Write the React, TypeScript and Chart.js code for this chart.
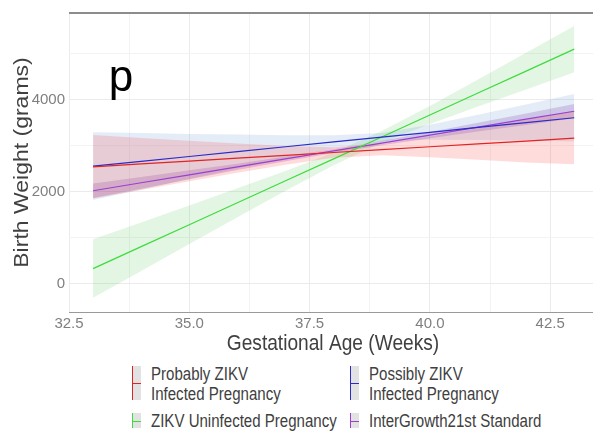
import React, { useEffect, useRef } from 'react';
import { Chart, registerables } from 'chart.js';
Chart.register(...registerables);

// Gestational age (weeks) at which fitted values / bands are read
const weeks = [33, 34, 35, 36, 37, 38, 39, 40, 41, 42, 43];

// Probably ZIKV infected pregnancy
const probablyFit = [2536, 2598, 2660, 2723, 2785, 2847, 2909, 2971, 3033, 3095, 3158];
const probablyLow = [1846, 2033, 2219, 2404, 2582, 2735, 2785, 2745, 2690, 2629, 2590];
const probablyHigh = [3226, 3163, 3101, 3042, 2988, 2959, 3033, 3197, 3376, 3561, 3748];

// Possibly ZIKV infected pregnancy
const possiblyFit = [2550, 2655, 2760, 2866, 2971, 3076, 3181, 3286, 3392, 3497, 3602];
const possiblyLow = [1814, 2042, 2269, 2496, 2719, 2933, 3090, 3123, 3117, 3103, 3087];
const possiblyHigh = [3286, 3268, 3251, 3236, 3223, 3219, 3272, 3449, 3667, 3891, 4117];

// ZIKV uninfected pregnancy
const uninfectedFit = [322, 799, 1276, 1754, 2231, 2708, 3185, 3662, 4140, 4617, 5094];
const uninfectedLow = [-314, 272, 857, 1440, 2016, 2571, 3057, 3465, 3846, 4219, 4589];
const uninfectedHigh = [958, 1326, 1695, 2068, 2446, 2845, 3313, 3859, 4434, 5015, 5599];

// InterGrowth21st standard
const standardFit = [2015, 2188, 2361, 2534, 2707, 2880, 3052, 3225, 3398, 3571, 3744];
const standardLow = [1855, 2060, 2263, 2464, 2657, 2838, 3004, 3157, 3303, 3446, 3589];
const standardHigh = [2175, 2316, 2459, 2604, 2757, 2922, 3100, 3293, 3493, 3696, 3899];

// Axis ticks
const xTicks = [32.5, 33.75, 35, 36.25, 37.5, 38.75, 40, 41.25, 42.5];
const xLabeled = [32.5, 35, 37.5, 40, 42.5];
const yTicks = [0, 1000, 2000, 3000, 4000, 5000];
const yLabeled = [0, 2000, 4000];
const X_MIN = 32.5;
const X_MAX = 43.39;
const Y_MIN = -622;
const Y_MAX = 5880;

const xTitle = 'Gestational Age (Weeks)';
const yTitle = 'Birth Weight (grams)';
const panelLabel = 'p';

const seriesNames = [
  ['Probably ZIKV', 'Infected Pregnancy'],
  ['Possibly ZIKV', 'Infected Pregnancy'],
  ['ZIKV Uninfected Pregnancy'],
  ['InterGrowth21st Standard'],
];
const lineColors = ['#e02424', '#2b2bc8', '#3ddc3d', '#9a3fd0'];
const fillColors = [
  'rgba(255,40,40,0.16)',
  'rgba(90,140,210,0.17)',
  'rgba(70,190,70,0.15)',
  'rgba(130,40,160,0.22)',
];

const FONT = '"Liberation Sans", Arial, Helvetica, sans-serif';

export default function App() {
  const ref = useRef<HTMLCanvasElement>(null);

  useEffect(() => {
    document.body.style.margin = '0';
    const canvas = ref.current!;
    const pts = (ys: number[]) => weeks.map((x, i) => ({ x, y: ys[i] }));
    const series = [
      { fit: probablyFit, lo: probablyLow, hi: probablyHigh },
      { fit: possiblyFit, lo: possiblyLow, hi: possiblyHigh },
      { fit: uninfectedFit, lo: uninfectedLow, hi: uninfectedHigh },
      { fit: standardFit, lo: standardLow, hi: standardHigh },
    ];
    const datasets: any[] = [];
    series.forEach((s, i) =>
      datasets.push({
        data: pts(s.fit),
        borderColor: lineColors[i],
        borderWidth: 1.2,
        pointRadius: 0,
        fill: false,
        tension: 0,
      })
    );
    series.forEach((s, i) => {
      const hiIdx = datasets.length;
      datasets.push({
        data: pts(s.hi),
        borderColor: 'transparent',
        borderWidth: 0,
        pointRadius: 0,
        backgroundColor: fillColors[i],
        fill: hiIdx + 1,
      });
      datasets.push({
        data: pts(s.lo),
        borderColor: 'transparent',
        borderWidth: 0,
        pointRadius: 0,
        fill: false,
      });
    });

    const decor = {
      id: 'decor',
      beforeDatasetsDraw(chart: any) {
        const { ctx, chartArea: a } = chart;
        ctx.save();
        ctx.strokeStyle = '#8c8c8c';
        ctx.lineWidth = 2;
        ctx.beginPath();
        ctx.moveTo(a.left, a.top);
        ctx.lineTo(a.right, a.top);
        ctx.stroke();
        ctx.strokeStyle = '#9a9a9a';
        ctx.lineWidth = 1;
        ctx.beginPath();
        ctx.moveTo(a.left, a.bottom + 0.5);
        ctx.lineTo(a.right, a.bottom + 0.5);
        ctx.stroke();
        ctx.restore();
      },
      afterDraw(chart: any) {
        const { ctx, chartArea: a } = chart;
        ctx.save();
        ctx.fillStyle = '#404040';
        ctx.textAlign = 'center';
        ctx.textBaseline = 'middle';
        // x title
        ctx.font = `22px ${FONT}`;
        ctx.save();
        ctx.translate((a.left + a.right) / 2 + 2, a.bottom + 32);
        ctx.scale(0.87, 1);
        ctx.fillText(xTitle, 0, 0);
        ctx.restore();
        // y title
        ctx.font = `23px ${FONT}`;
        ctx.save();
        ctx.translate(22, (a.top + a.bottom) / 2);
        ctx.scale(0.87, 1);
        ctx.rotate(-Math.PI / 2);
        ctx.fillText(yTitle, 0, 0);
        ctx.restore();
        // panel letter
        ctx.fillStyle = '#000';
        ctx.font = `44px ${FONT}`;
        ctx.textBaseline = 'alphabetic';
        ctx.fillText(panelLabel, a.left + 52, a.top + 78);
        ctx.restore();
      },
    };

    const chart = new Chart(canvas, {
      type: 'line',
      data: { datasets },
      options: {
        animation: false,
        responsive: false,
        events: [],
        layout: { padding: { top: 9, left: 0, right: 0, bottom: 0 } },
        plugins: { legend: { display: false }, tooltip: { enabled: false } },
        scales: {
          x: {
            type: 'linear',
            min: X_MIN,
            max: X_MAX,
            afterBuildTicks: (s: any) => {
              s.ticks = xTicks.map((v) => ({ value: v }));
            },
            afterFit: (s: any) => {
              s.height = 45;
            },
            ticks: {
              autoSkip: false,
              maxRotation: 0,
              padding: 3,
              color: '#7f7f7f',
              font: { size: 15, family: FONT },
              callback: (v: any) => (xLabeled.includes(Number(v)) ? Number(v).toFixed(1) : ''),
            },
            grid: {
              drawTicks: false,
              color: (c: any) => (xLabeled.includes(c.tick?.value) ? '#ebebeb' : '#f3f3f3'),
              lineWidth: 1,
            },
            border: { display: false },
          },
          y: {
            type: 'linear',
            min: Y_MIN,
            max: Y_MAX,
            afterBuildTicks: (s: any) => {
              s.ticks = yTicks.map((v) => ({ value: v }));
            },
            afterFit: (s: any) => {
              s.width = 69;
            },
            ticks: {
              autoSkip: false,
              padding: 4,
              color: '#7f7f7f',
              font: { size: 15, family: FONT },
              callback: (v: any) => (yLabeled.includes(Number(v)) ? String(v) : ''),
            },
            grid: {
              drawTicks: false,
              color: (c: any) => (yLabeled.includes(c.tick?.value) ? '#ebebeb' : '#f3f3f3'),
              lineWidth: 1,
            },
            border: { display: false },
          },
        },
      },
      plugins: [decor],
    });
    return () => chart.destroy();
  }, []);

  const keyStyle = (i: number, top: number, h: number, left: number): React.CSSProperties => ({
    position: 'absolute',
    left,
    top,
    width: 9,
    height: h,
    background: '#e2e2e2',
    borderLeft: `1px solid ${lineColors[i]}`,
    boxSizing: 'border-box',
  });
  const midLine = (i: number): React.CSSProperties => ({
    position: 'absolute',
    left: 0,
    right: 0,
    top: '50%',
    height: 1,
    background: lineColors[i],
  });
  const textStyle = (top: number, left: number): React.CSSProperties => ({
    position: 'absolute',
    left,
    top,
    fontFamily: FONT,
    fontSize: 17.5,
    lineHeight: '19.5px',
    color: '#404040',
    whiteSpace: 'nowrap',
    transform: 'scaleX(0.86)',
    transformOrigin: 'left center',
  });
  const cols = [132, 350];
  const rows = [
    { keyTop: 366, keyH: 34, textTop: 365 },
    { keyTop: 413, keyH: 15, textTop: 412 },
  ];

  return (
    <div style={{ position: 'fixed', left: 0, top: 0, width: 593, height: 432, background: '#fff', overflow: 'hidden' }}>
      <canvas ref={ref} width={593} height={357} style={{ display: 'block' }} />
      {seriesNames.map((name, i) => {
        const r = rows[Math.floor(i / 2)];
        const c = cols[i % 2];
        return (
          <React.Fragment key={i}>
            <div style={keyStyle(i, r.keyTop, r.keyH, c)}>
              <div style={midLine(i)} />
            </div>
            <div style={textStyle(r.textTop, c + 19)}>
              {name.map((l, j) => (
                <div key={j}>{l}</div>
              ))}
            </div>
          </React.Fragment>
        );
      })}
    </div>
  );
}
